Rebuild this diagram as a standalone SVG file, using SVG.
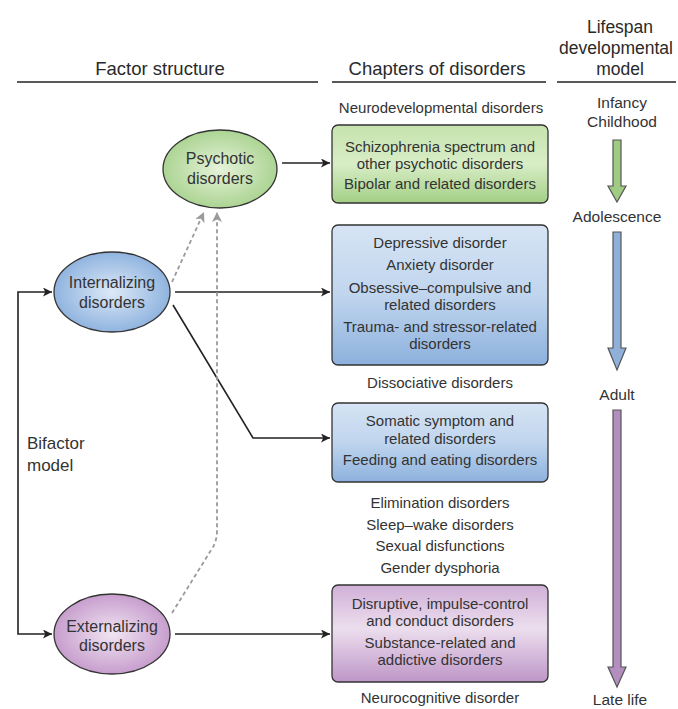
<svg xmlns="http://www.w3.org/2000/svg" width="678" height="709" viewBox="0 0 678 709">
<style>
text{font-family:"Liberation Sans",Arial,sans-serif;fill:#333;text-anchor:middle}
.h{font-size:18.5px;fill:#2a2a2a}
.hl{font-size:17.5px;fill:#2a2a2a}
.t{font-size:15px}
.e{font-size:16px}
.l{font-size:15.5px}
.b{font-size:17px;text-anchor:start}
.rule{stroke:#222;stroke-width:1.5}
.box{stroke:#333;stroke-width:1.3}
.ell{stroke:#333;stroke-width:1.3}
.con{fill:none;stroke:#222;stroke-width:1.6}
.dash{fill:none;stroke:#9a9a9a;stroke-width:1.8;stroke-dasharray:4 3}
.life{stroke:#555;stroke-width:1.2;stroke-linejoin:miter}
</style>
<defs>
<marker id="ah" viewBox="0 0 10 10" refX="10" refY="5" markerWidth="11" markerHeight="9" markerUnits="userSpaceOnUse" orient="auto"><path d="M0,0 L10,5 L0,10 L2.5,5 Z" fill="#222"/></marker>
<marker id="ag" viewBox="0 0 10 10" refX="10" refY="5" markerWidth="11" markerHeight="10" markerUnits="userSpaceOnUse" orient="auto"><path d="M0,0 L10,5 L0,10 L2.5,5 Z" fill="#9a9a9a"/></marker>
<linearGradient id="gG" x1="0" y1="0" x2="0" y2="1"><stop offset="0" stop-color="#c6e3ae"/><stop offset="0.5" stop-color="#d8edc6"/><stop offset="1" stop-color="#a3cf86"/></linearGradient>
<linearGradient id="gB" x1="0" y1="0" x2="0" y2="1"><stop offset="0" stop-color="#d6e4f4"/><stop offset="0.5" stop-color="#c0d5ee"/><stop offset="1" stop-color="#8cb1dd"/></linearGradient>
<linearGradient id="gP" x1="0" y1="0" x2="0" y2="1"><stop offset="0" stop-color="#d0b0d7"/><stop offset="0.45" stop-color="#ecdeee"/><stop offset="1" stop-color="#be96c7"/></linearGradient>
<radialGradient id="rG"><stop offset="0" stop-color="#e6f3da"/><stop offset="1" stop-color="#acd493"/></radialGradient>
<radialGradient id="rB"><stop offset="0" stop-color="#dde9f7"/><stop offset="1" stop-color="#90b4df"/></radialGradient>
<radialGradient id="rP"><stop offset="0" stop-color="#f1e5f2"/><stop offset="1" stop-color="#c79ecd"/></radialGradient>
</defs>
<rect width="678" height="709" fill="#fff"/>

<g id="headers">
<text class="h" x="160" y="75">Factor structure</text>
<text class="h" x="437" y="75">Chapters of disorders</text>
<text class="hl" x="620" y="33">Lifespan</text>
<text class="hl" x="616" y="54">developmental</text>
<text class="hl" x="620" y="75">model</text>
<line class="rule" x1="17" y1="82" x2="318" y2="82"/>
<line class="rule" x1="332" y1="82" x2="546" y2="82"/>
<line class="rule" x1="557" y1="82" x2="676" y2="82"/>
</g>

<g id="connectors">
<line class="con" x1="282" y1="163" x2="330" y2="163" marker-end="url(#ah)"/>
<line class="con" x1="175" y1="292" x2="330" y2="292" marker-end="url(#ah)"/>
<polyline class="con" points="173,305 253,438 330,438" marker-end="url(#ah)"/>
<line class="con" x1="175" y1="634" x2="330" y2="634" marker-end="url(#ah)"/>
<path class="con" d="M18,463 V292 H52" marker-end="url(#ah)"/>
<path class="con" d="M18,463 V634 H52" marker-end="url(#ah)"/>
<path class="dash" d="M172,282 L204,212" marker-end="url(#ag)"/>
<path class="dash" d="M172,613 L213,547 Q217,540 217,530 V212" marker-end="url(#ag)"/>
</g>

<g id="psychotic">
<ellipse class="ell" cx="220" cy="169" rx="57" ry="39" fill="url(#rG)"/>
<text class="e" x="220" y="164">Psychotic</text>
<text class="e" x="220" y="184">disorders</text>
</g>
<g id="internalizing">
<ellipse class="ell" cx="112" cy="292" rx="58" ry="40" fill="url(#rB)"/>
<text class="e" x="112" y="288">Internalizing</text>
<text class="e" x="112" y="308">disorders</text>
</g>
<g id="externalizing">
<ellipse class="ell" cx="112" cy="634" rx="58" ry="40" fill="url(#rP)"/>
<text class="e" x="112" y="632">Externalizing</text>
<text class="e" x="112" y="651">disorders</text>
</g>
<g id="bifactor">
<text class="b" x="27" y="449">Bifactor</text>
<text class="b" x="27" y="471">model</text>
</g>

<g id="neurodevelopmental"><text class="t" x="441" y="113">Neurodevelopmental disorders</text></g>
<g id="box-psychotic">
<rect class="box" x="332" y="125" width="216" height="78" rx="6" fill="url(#gG)"/>
<text class="t" x="440" y="152">Schizophrenia spectrum and</text>
<text class="t" x="440" y="169">other psychotic disorders</text>
<text class="t" x="440" y="189">Bipolar and related disorders</text>
</g>
<g id="box-internalizing">
<rect class="box" x="332" y="225" width="216" height="140" rx="6" fill="url(#gB)"/>
<text class="t" x="440" y="248">Depressive disorder</text>
<text class="t" x="440" y="270">Anxiety disorder</text>
<text class="t" x="440" y="293">Obsessive–compulsive and</text>
<text class="t" x="440" y="310">related disorders</text>
<text class="t" x="440" y="332">Trauma- and stressor-related</text>
<text class="t" x="440" y="349">disorders</text>
</g>
<g id="dissociative"><text class="t" x="440" y="388">Dissociative disorders</text></g>
<g id="box-somatic">
<rect class="box" x="332" y="403" width="216" height="79" rx="6" fill="url(#gB)"/>
<text class="t" x="440" y="426">Somatic symptom and</text>
<text class="t" x="440" y="444">related disorders</text>
<text class="t" x="440" y="465">Feeding and eating disorders</text>
</g>
<g id="other-chapters">
<text class="t" x="440" y="508">Elimination disorders</text>
<text class="t" x="440" y="530">Sleep–wake disorders</text>
<text class="t" x="440" y="551">Sexual disfunctions</text>
<text class="t" x="440" y="573">Gender dysphoria</text>
</g>
<g id="box-externalizing">
<rect class="box" x="332" y="585" width="216" height="97" rx="6" fill="url(#gP)"/>
<text class="t" x="440" y="609">Disruptive, impulse-control</text>
<text class="t" x="440" y="626">and conduct disorders</text>
<text class="t" x="440" y="648">Substance-related and</text>
<text class="t" x="440" y="665">addictive disorders</text>
</g>
<g id="neurocognitive"><text class="t" x="440" y="703">Neurocognitive disorder</text></g>

<g id="lifespan">
<text class="l" x="622" y="108">Infancy</text>
<text class="l" x="622" y="127">Childhood</text>
<path class="life" d="M613,140 H621 V186 H626 L617,202 L608,186 H613 Z" fill="#9fcb82"/>
<text class="l" x="617" y="222">Adolescence</text>
<path class="life" d="M613,232 H621 V348 H626 L617,370 L608,348 H613 Z" fill="#8fb0d8"/>
<text class="l" x="617" y="400">Adult</text>
<path class="life" d="M613,410 H621 V667 H626 L617,687 L608,667 H613 Z" fill="#b28fbf"/>
<text class="l" x="620" y="705">Late life</text>
</g>
</svg>
